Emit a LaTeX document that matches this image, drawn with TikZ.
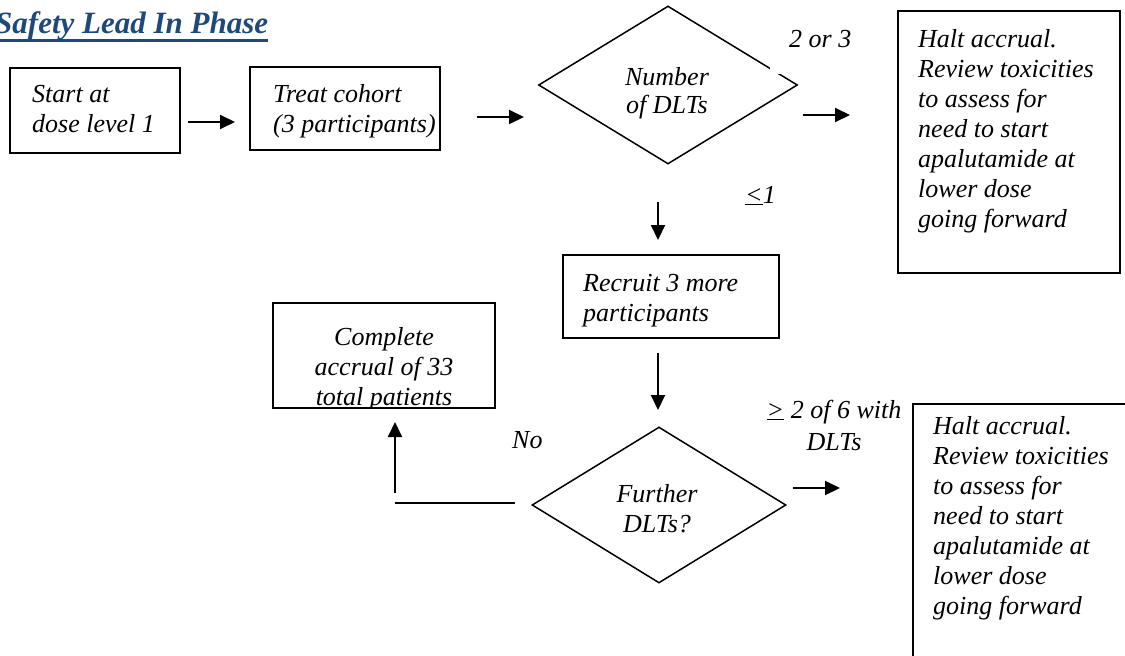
\documentclass[tikz,border=0pt]{standalone}
\usepackage{fontspec}
\setmainfont{Liberation Serif}
\usetikzlibrary{shapes.geometric,arrows.meta}
\definecolor{titleblue}{RGB}{31,73,125}
\begin{document}
\begin{tikzpicture}[x=1pt,y=-1pt,
  box/.style={draw,line width=2pt,rectangle,inner sep=0pt},
  dia/.style={draw,line width=1.5pt,diamond,inner sep=0pt},
  txt/.style={inner sep=0pt,font=\fontsize{26}{30}\selectfont\itshape},
  arr/.style={line width=2pt,-{Triangle[length=15pt,width=14pt]}},
  plain/.style={line width=2pt}]
\clip (0,0) rectangle (1125,656);
\fill[white] (0,0) rectangle (1125,656);

% title
\node[inner sep=0pt,anchor=base west,text=titleblue,font=\fontsize{31}{36}\selectfont\bfseries\itshape] (title) at (-5,33) {Safety Lead In Phase};
\draw[titleblue,line width=3pt] (0,40) -- (268,40);

% boxes
\node[box,minimum width=170pt,minimum height=85pt] (start) at (95,110.5) {};
\node[box,minimum width=190pt,minimum height=83pt] (treat) at (345,108.5) {};
\node[dia,minimum width=259pt,minimum height=158pt] (dlt) at (668,85) {};
\node[box,minimum width=222pt,minimum height=262pt] (halt1) at (1009,142) {};
\node[box,minimum width=216pt,minimum height=83pt] (recruit) at (671,296.5) {};
\node[box,minimum width=222pt,minimum height=105pt] (complete) at (384,355.5) {};
\node[dia,minimum width=254pt,minimum height=156pt] (further) at (659,505) {};
\node[box,minimum width=227pt,minimum height=276pt] (halt2) at (1026.5,542) {};

% texts
\node[txt,anchor=base west] (starttxt) at (32,102) {\parbox[t]{200pt}{\raggedright Start at\\dose level 1}};
\node[txt,anchor=base west] (treattxt) at (273,102) {\parbox[t]{200pt}{\raggedright Treat cohort\\(3 participants)}};
\node[txt,anchor=base] (dlttxt) at (667,85) {\parbox[t]{200pt}{\centering Number\\[-2pt]of DLTs}};
\fill[white] (770,74) rectangle (860,20);
\node[txt,anchor=base west] (lbl23) at (789,47) {2 or 3};
\node[txt,anchor=base west] (halt1txt) at (918,47) {\parbox[t]{200pt}{\raggedright Halt accrual.\\Review toxicities\\to assess for\\need to start\\apalutamide at\\lower dose\\going forward}};
\node[txt,anchor=base west] (lbl1) at (745,203) {\underline{<}1};
\node[txt,anchor=base west] (recruittxt) at (583,291) {\parbox[t]{200pt}{\raggedright Recruit 3 more\\participants}};
\begin{scope}
\clip (273,303) rectangle (495,408);
\node[txt,anchor=base] (completetxt) at (384,345) {\parbox[t]{200pt}{\centering Complete\\accrual of 33\\total patients}};
\end{scope}
\node[txt,anchor=base west] (lblno) at (512,448) {No};
\node[txt,anchor=base] (lbl2of6) at (834,418) {\parbox[t]{200pt}{\centering\underline{>} 2 of 6 with\\[2pt]DLTs}};
\node[txt,anchor=base] (furthertxt) at (657,502) {\parbox[t]{200pt}{\centering Further\\DLTs?}};
\node[txt,anchor=base west] (halt2txt) at (933,434) {\parbox[t]{200pt}{\raggedright Halt accrual.\\Review toxicities\\to assess for\\need to start\\apalutamide at\\lower dose\\going forward}};

% connector end points
\coordinate (a1s) at (188,122); \coordinate (a1e) at (235,122);
\coordinate (a2s) at (477,117); \coordinate (a2e) at (524,117);
\coordinate (a3s) at (803,115); \coordinate (a3e) at (850,115);
\coordinate (a4s) at (658,202); \coordinate (a4e) at (658,240);
\coordinate (a5s) at (658,353); \coordinate (a5e) at (658,410);
\coordinate (a6s) at (793,488); \coordinate (a6e) at (840,488);
\coordinate (nos) at (515,503); \coordinate (noe) at (395,503);
\coordinate (ups) at (395,493); \coordinate (upe) at (395,422);

\draw[arr] (a1s) -- (a1e);
\draw[arr] (a2s) -- (a2e);
\draw[arr] (a3s) -- (a3e);
\draw[arr] (a4s) -- (a4e);
\draw[arr] (a5s) -- (a5e);
\draw[arr] (a6s) -- (a6e);
\draw[plain] (nos) -- (noe);
\draw[arr] (ups) -- (upe);
\end{tikzpicture}
\end{document}
